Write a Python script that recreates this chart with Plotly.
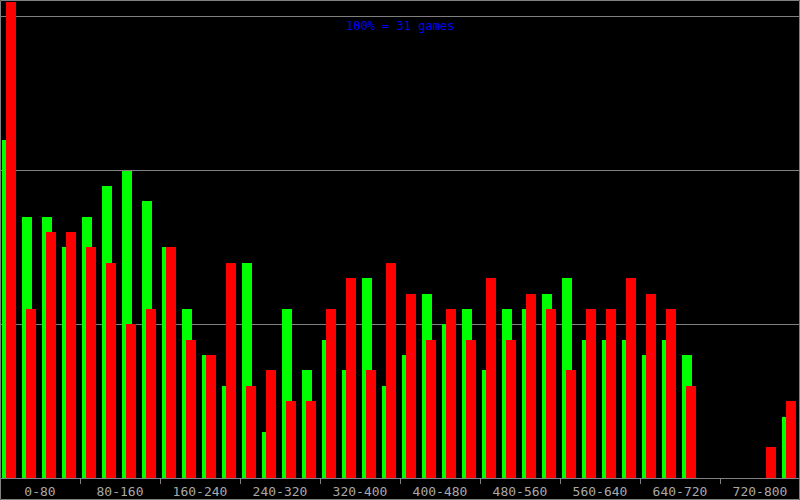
import plotly.graph_objects as go

# Bin starts (score), 40 bins of width 20
bin_starts = list(range(0, 800, 20))
green_vals = [22, 17, 17, 15, 17, 19, 20, 18, 15, 11, 8, 6, 14, 3, 11, 7, 9, 7, 13, 6,
              8, 12, 10, 11, 7, 11, 11, 12, 13, 9, 9, 9, 8, 9, 8, 0, 0, 0, 0, 4]
red_vals = [31, 11, 16, 16, 15, 14, 10, 11, 15, 9, 8, 14, 6, 7, 5, 5, 11, 13, 7, 14,
            12, 9, 11, 9, 13, 9, 12, 11, 7, 11, 11, 13, 12, 11, 6, 0, 0, 0, 2, 5]
range_labels = ["0-80", "80-160", "160-240", "240-320", "320-400",
                "400-480", "480-560", "560-640", "640-720", "720-800"]
label_pos = [40, 120, 200, 280, 360, 440, 520, 600, 680, 760]
gridvals = [10, 20, 30]

W, H = 800, 500
B = 22
plot_h = H - B
GRAY = "#808080"

fig = go.Figure()
fig.add_trace(go.Bar(x=bin_starts, y=green_vals, width=10, offset=2,
                     marker=dict(color="#00ff00", line=dict(width=0)),
                     showlegend=False, hoverinfo="skip"))
fig.add_trace(go.Bar(x=bin_starts, y=red_vals, width=10, offset=6,
                     marker=dict(color="#ff0000", line=dict(width=0)),
                     showlegend=False, hoverinfo="skip"))

fig.update_layout(
    width=W, height=H,
    margin=dict(l=0, r=0, t=0, b=B, pad=0),
    paper_bgcolor="black", plot_bgcolor="black",
    barmode="overlay", bargap=0,
    xaxis=dict(range=[0, 800], tickmode="array", tickvals=label_pos, ticktext=range_labels,
               ticks="", showgrid=False, zeroline=False,
               showline=True, linecolor=GRAY, linewidth=1, ticklabelstandoff=1,
               tickfont=dict(family="DejaVu Sans Mono", size=13, color="#a8a8a8"),
               minor=dict(tick0=0, dtick=80, ticks="outside", ticklen=5,
                          tickcolor=GRAY, tickwidth=1, showgrid=False),
               fixedrange=True),
    yaxis=dict(range=[0, 31.1], tickmode="array", tickvals=gridvals, showticklabels=False,
               showgrid=True, gridcolor=GRAY, gridwidth=1, zeroline=False,
               ticks="", showline=False, fixedrange=True),
    annotations=[dict(text="100% = 31 games", x=0.5, y=1 - 17 / plot_h, xref="paper", yref="paper",
                      showarrow=False, font=dict(family="DejaVu Sans Mono", size=12, color="#0000ff"))],
    shapes=[dict(type="rect", xref="paper", yref="paper",
                 x0=0.5 / W, x1=1 - 0.5 / W, y0=-(B - 0.5) / plot_h, y1=1 - 0.5 / plot_h,
                 line=dict(color=GRAY, width=1), fillcolor="rgba(0,0,0,0)", layer="above")],
)

fig.write_html("out.html", config={"displayModeBar": False},
               post_script="document.body.style.margin='0';document.body.style.background='black';")
